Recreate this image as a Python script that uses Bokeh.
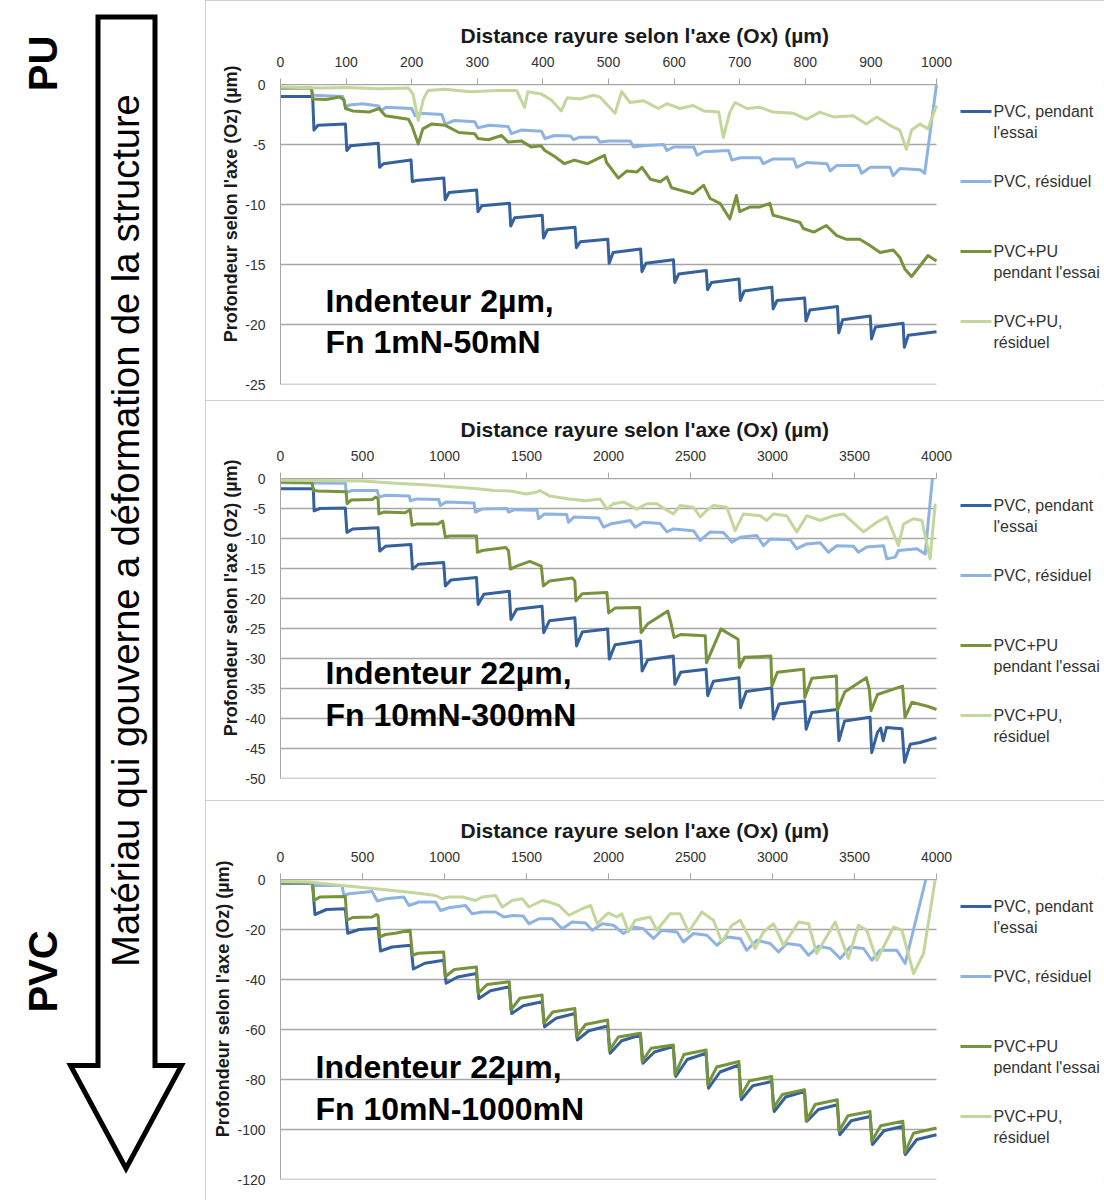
import math
from bokeh.plotting import figure
from bokeh.layouts import row, column
from bokeh.models import Range1d, FixedTicker, Title
from bokeh.embed import file_html
from bokeh.resources import INLINE
from bokeh.core.properties import value

# ---------------- data ----------------
SERIES_LABELS = [["PVC, pendant", "l'essai"], ["PVC, résiduel"],
                 ["PVC+PU", "pendant l'essai"], ["PVC+PU,", "résiduel"]]
COLORS = ["#35619C", "#8DB3E2", "#77933C", "#C3D69B"]
X_TITLE = "Distance rayure selon l'axe (Ox) (µm)"
Y_TITLE = "Profondeur selon l'axe (Oz) (µm)"
ARROW_TEXT = "Matériau qui gouverne a déformation de la structure"

# Panel 1 : indenteur 2 µm, 1-50 mN
p1_xticks = [0, 100, 200, 300, 400, 500, 600, 700, 800, 900, 1000]
p1_yticks = [0, -5, -10, -15, -20, -25]
p1_note = ["Indenteur 2µm,", "Fn 1mN-50mN"]
p1_pvc_pendant = [(0,-1.0),(49,-1.0),
    (51,-3.8),(57,-3.4),(99,-3.3),(101,-5.5),(107,-5.1),(149,-4.9),
    (151,-6.9),(157,-6.6),(199,-6.3),(201,-8.1),(207,-8.0),(249,-7.8),
    (251,-9.6),(257,-9.0),(299,-8.8),(301,-10.6),(307,-10.1),(349,-9.9),
    (351,-11.8),(357,-11.1),(399,-10.9),(401,-12.8),(407,-12.1),(449,-11.9),
    (451,-13.6),(457,-13.1),(499,-12.9),(501,-14.9),(507,-14.0),(549,-13.7),
    (551,-15.6),(557,-14.9),(599,-14.6),(601,-16.5),(607,-15.8),(649,-15.5),
    (651,-17.1),(657,-16.5),(699,-16.2),(701,-18.0),(707,-17.2),(749,-16.9),
    (751,-18.7),(757,-18.0),(799,-17.8),(801,-19.7),(807,-18.8),(849,-18.5),
    (851,-20.7),(857,-19.6),(899,-19.3),(901,-21.2),(907,-20.2),(949,-19.9),
    (951,-21.9),(957,-20.9),(1000,-20.6)]
p1_pvc_resid = [(0,-0.3),(47,-0.3),(50,-0.9),(95,-1.0),
    (99,-1.9),(105,-1.7),(125,-1.6),(150,-1.8),(154,-2.2),(160,-1.9),(200,-2.0),
    (205,-2.6),(212,-2.4),(246,-2.5),(251,-3.3),(265,-3.0),(296,-3.1),
    (301,-3.6),(318,-3.4),(347,-3.5),(352,-4.1),(367,-3.8),(398,-3.9),
    (403,-4.5),(418,-4.25),(442,-4.3),(447,-4.6),(455,-4.4),(482,-4.4),
    (487,-4.8),(500,-4.7),(533,-4.7),(538,-5.2),(553,-5.1),(584,-5.0),
    (589,-5.5),(600,-5.2),(630,-5.2),(635,-5.9),(645,-5.6),(683,-5.5),
    (688,-6.3),(701,-6.1),(731,-6.1),(736,-6.6),(751,-6.2),(782,-6.2),
    (787,-6.9),(802,-6.5),(833,-6.6),(838,-7.2),(848,-6.75),(881,-6.75),
    (886,-7.4),(899,-6.9),(929,-6.9),(934,-7.6),(944,-7.0),(975,-7.1),
    (982,-7.4),(1000,0.0)]
p1_pu_pendant = [(0,-0.3),(47,-0.3),(49,-1.2),(70,-1.25),(90,-1.05),(97,-1.3),
    (99,-2.0),(110,-2.2),(135,-2.3),(150,-2.0),(160,-2.6),(195,-2.9),(200,-3.4),
    (210,-4.95),(217,-3.7),(230,-3.3),(251,-3.4),(272,-4.0),(296,-4.1),
    (301,-4.5),(317,-4.6),(337,-4.25),(347,-4.8),(367,-4.7),(382,-5.2),(397,-5.1),
    (403,-5.5),(418,-6.0),(433,-6.6),(448,-6.3),(468,-6.6),(483,-6.2),(494,-5.9),
    (497,-6.5),(515,-7.8),(528,-7.2),(543,-7.3),(551,-6.9),(564,-7.9),(579,-8.1),
    (589,-7.7),(596,-8.6),(609,-8.8),(629,-9.1),(645,-8.4),(655,-9.5),(670,-9.9),
    (685,-11.2),(695,-9.25),(700,-10.6),(716,-10.2),(731,-10.2),(746,-9.9),
    (751,-10.9),(772,-11.2),(792,-11.5),(797,-12.0),(813,-12.3),(832,-11.75),
    (848,-12.6),(863,-12.9),(883,-12.9),(898,-13.4),(914,-14.0),(934,-13.8),
    (944,-14.4),(952,-15.4),(962,-16.0),(975,-15.1),(987,-14.25),(1000,-14.7)]
p1_pu_resid = [(0,-0.2),(60,-0.3),(100,-0.25),(150,-0.35),(195,-0.3),(202,-0.8),
    (210,-3.0),(218,-1.2),(225,-0.5),(250,-0.4),(290,-0.6),(330,-0.5),(360,-0.5),
    (372,-1.9),(377,-0.6),(398,-0.8),(413,-1.3),(428,-2.2),(437,-1.1),(457,-1.2),
    (477,-0.9),(487,-1.05),(510,-2.4),(520,-0.6),(533,-1.5),(553,-1.35),(576,-2.0),
    (589,-1.6),(609,-2.0),(629,-1.75),(645,-2.2),(668,-2.3),(675,-4.4),(685,-2.3),
    (693,-1.5),(711,-2.0),(731,-1.9),(751,-2.3),(782,-2.4),(802,-2.9),(822,-2.3),
    (843,-2.7),(873,-2.6),(893,-3.3),(909,-2.7),(929,-3.4),(944,-3.8),(954,-5.4),
    (962,-3.8),(975,-3.3),(987,-3.7),(1000,-1.75)]

# Panel 2 : indenteur 22 µm, 10-300 mN
p2_xticks = [0, 500, 1000, 1500, 2000, 2500, 3000, 3500, 4000]
p2_yticks = [0, -5, -10, -15, -20, -25, -30, -35, -40, -45, -50]
p2_note = ["Indenteur 22µm,", "Fn 10mN-300mN"]
p2_pvc_pendant = [(0,-1.7),(200,-1.7),
    (205,-5.4),(240,-5.0),(395,-4.9),(405,-9.0),(440,-8.4),(595,-8.2),
    (605,-12.1),(640,-11.3),(795,-11.0),(805,-15.1),(840,-14.3),(995,-14.0),
    (1005,-17.9),(1040,-16.9),(1195,-16.5),(1205,-21.0),(1240,-19.3),(1395,-18.8),
    (1405,-23.5),(1440,-21.8),(1595,-21.3),(1605,-25.7),(1640,-23.7),(1795,-23.2),
    (1805,-27.9),(1840,-25.6),(1995,-25.1),(2005,-30.1),(2040,-27.7),(2195,-27.1),
    (2205,-32.1),(2240,-30.2),(2395,-29.6),(2405,-34.3),(2440,-32.3),(2595,-31.8),
    (2605,-36.2),(2640,-33.8),(2795,-33.2),(2805,-38.2),(2840,-35.5),(2995,-34.9),
    (3005,-40.1),(3040,-37.6),(3195,-37.1),(3205,-41.8),(3240,-39.0),(3395,-38.5),
    (3405,-43.7),(3440,-40.4),(3595,-39.8),(3605,-45.7),(3640,-42.3),(3660,-41.6),
    (3675,-43.7),(3695,-41.5),(3790,-41.7),(3805,-47.3),(3840,-44.3),(3900,-44.0),
    (4000,-43.2)]
p2_pvc_resid = [(0,-0.7),(396,-0.8),(400,-2.3),(440,-2.0),(590,-2.0),
    (600,-3.1),(640,-2.8),(785,-2.9),(792,-3.7),(830,-3.4),(965,-3.5),
    (975,-4.5),(1010,-3.9),(1180,-4.1),(1188,-5.6),(1230,-5.1),(1380,-5.0),
    (1391,-5.6),(1430,-5.2),(1565,-5.3),(1573,-6.7),(1610,-5.9),(1745,-6.0),
    (1756,-7.3),(1790,-6.4),(1940,-6.6),(1970,-8.1),(2010,-7.6),(2132,-7.0),
    (2163,-8.1),(2213,-7.3),(2315,-7.5),(2356,-8.9),(2396,-8.4),(2518,-8.7),
    (2559,-10.3),(2620,-8.9),(2701,-9.0),(2752,-10.6),(2803,-9.8),(2904,-9.5),
    (2945,-11.2),(2986,-10.1),(3108,-10.2),(3148,-11.7),(3209,-10.9),(3291,-10.7),
    (3341,-12.3),(3392,-11.2),(3494,-11.3),(3524,-12.3),(3575,-11.4),(3677,-11.2),
    (3697,-13.4),(3748,-13.1),(3768,-12.0),(3880,-11.7),(3931,-12.6),(3975,0.0)]
p2_pu_pendant = [(0,-0.6),(193,-0.7),(200,-2.0),(230,-2.1),(400,-2.2),
    (406,-4.2),(430,-3.6),(560,-3.5),(580,-3.1),(595,-3.4),
    (600,-5.9),(630,-5.6),(760,-5.7),(790,-5.2),(802,-7.8),(830,-7.6),(960,-7.6),
    (989,-7.1),(1005,-9.8),(1030,-9.6),(1195,-9.6),(1201,-12.3),(1230,-12.0),
    (1373,-11.5),(1390,-12.0),(1402,-15.1),(1440,-14.6),(1520,-13.8),(1590,-14.6),
    (1603,-17.9),(1640,-17.1),(1780,-16.6),(1795,-17.1),(1801,-20.4),(1840,-19.2),
    (1990,-19.0),(2001,-22.4),(2040,-21.6),(2190,-21.5),(2199,-25.7),(2240,-24.2),
    (2362,-22.1),(2380,-24.0),(2400,-26.5),(2440,-26.0),(2590,-26.2),(2598,-30.7),
    (2686,-25.1),(2790,-26.8),(2798,-31.5),(2830,-29.8),(2990,-29.6),(2996,-34.6),
    (3030,-32.3),(3190,-31.8),(3197,-36.5),(3240,-33.3),(3390,-32.9),(3395,-38.7),
    (3440,-35.6),(3572,-33.2),(3590,-35.1),(3601,-38.7),(3640,-36.0),(3793,-34.6),
    (3808,-39.8),(3850,-37.3),(3950,-38.0),(4000,-38.5)]
p2_pu_resid = [(0,-0.3),(500,-0.4),(700,-0.8),(900,-1.1),(1000,-1.3),(1200,-1.7),
    (1300,-2.0),(1400,-2.1),(1500,-2.6),(1560,-2.3),(1580,-2.0),(1640,-2.9),
    (1760,-3.4),(1860,-3.7),(1949,-3.4),(1990,-5.1),(2030,-4.2),(2091,-3.9),
    (2173,-5.1),(2234,-4.2),(2295,-4.2),(2356,-5.3),(2396,-5.9),(2437,-4.5),
    (2518,-4.8),(2559,-6.4),(2600,-5.3),(2640,-4.5),(2722,-4.8),(2772,-8.7),
    (2823,-5.9),(2925,-6.2),(2965,-7.0),(3006,-5.9),(3087,-6.2),(3148,-8.9),
    (3209,-6.2),(3291,-7.0),(3372,-6.2),(3433,-5.9),(3555,-8.9),(3636,-7.3),
    (3697,-6.4),(3768,-11.2),(3799,-7.6),(3860,-6.7),(3911,-7.0),(3961,-13.4),
    (3992,-4.2)]

# Panel 3 : indenteur 22 µm, 10-1000 mN
p3_xticks = [0, 500, 1000, 1500, 2000, 2500, 3000, 3500, 4000]
p3_yticks = [0, -20, -40, -60, -80, -100, -120]
p3_note = ["Indenteur 22µm,", "Fn 10mN-1000mN"]
p3_pvc_pendant = [(0,-1.5),(195,-1.5),
    (210,-14.0),(280,-12.0),(395,-11.7),(410,-21.5),(480,-20.0),(595,-19.5),
    (610,-28.6),(680,-27.0),(795,-26.3),(810,-35.8),(880,-33.5),(995,-32.3),
    (1010,-41.5),(1080,-39.0),(1195,-37.6),(1210,-47.6),(1280,-44.5),(1395,-42.9),
    (1410,-53.6),(1480,-50.5),(1595,-48.9),(1610,-58.9),(1680,-55.5),(1795,-53.6),
    (1810,-64.2),(1880,-60.5),(1995,-58.6),(2010,-69.5),(2080,-64.5),(2195,-62.2),
    (2210,-73.5),(2280,-69.0),(2395,-66.8),(2410,-78.8),(2480,-72.0),(2595,-69.5),
    (2610,-83.5),(2680,-77.0),(2795,-74.2),(2810,-88.1),(2880,-82.5),(2995,-80.8),
    (3010,-92.8),(3080,-87.0),(3195,-84.8),(3210,-96.7),(3280,-92.0),(3395,-90.1),
    (3410,-102.1),(3480,-96.5),(3595,-94.8),(3610,-106.0),(3680,-100.5),(3795,-98.7),
    (3810,-110.0),(3880,-104.0),(4000,-102.1)]
p3_pvc_resid = [(0,-1.3),(183,-1.3),(200,-2.8),(213,-2.4),(376,-2.4),
    (386,-6.4),(417,-5.7),(559,-4.8),(590,-8.6),(640,-7.7),(752,-7.0),
    (783,-10.4),(844,-9.0),(945,-9.0),(976,-12.4),(1027,-11.3),(1128,-10.4),
    (1169,-13.7),(1230,-13.0),(1311,-13.0),(1362,-15.0),(1420,-14.4),(1480,-14.6),
    (1515,-17.7),(1576,-15.7),(1657,-15.7),(1718,-19.7),(1779,-17.0),(1860,-17.4),
    (1901,-20.3),(1962,-17.7),(2030,-18.3),(2091,-21.6),(2152,-19.0),(2213,-19.7),
    (2274,-23.6),(2325,-20.3),(2417,-21.0),(2457,-25.0),(2518,-21.6),(2600,-22.3),
    (2661,-26.3),(2722,-23.0),(2803,-23.6),(2843,-28.3),(2904,-24.3),(2986,-25.6),
    (3037,-29.0),(3087,-25.6),(3169,-26.3),(3220,-30.3),(3280,-26.7),(3352,-27.6),
    (3413,-31.6),(3474,-27.0),(3555,-27.6),(3606,-32.3),(3656,-28.3),(3758,-28.3),
    (3809,-33.6),(3935,0.0)]
p3_pu_pendant = [(0,-1.3),(195,-1.3),
    (205,-8.4),(240,-7.0),(395,-6.8),(405,-16.3),(440,-15.2),(560,-15.0),
    (585,-14.0),(595,-14.5),(605,-23.0),(640,-22.0),(700,-21.5),(790,-20.3),
    (805,-30.3),(840,-29.5),(995,-29.0),(1005,-38.9),(1060,-36.0),(1195,-35.0),
    (1205,-45.6),(1260,-42.0),(1395,-40.9),(1405,-52.2),(1460,-47.5),(1595,-46.2),
    (1605,-57.5),(1660,-53.0),(1795,-51.6),(1805,-62.9),(1860,-58.0),(1995,-56.2),
    (2005,-68.4),(2060,-63.0),(2195,-61.5),(2205,-72.8),(2260,-67.5),(2395,-66.2),
    (2405,-78.1),(2460,-70.0),(2595,-68.2),(2605,-82.1),(2660,-75.0),(2795,-72.8),
    (2805,-86.8),(2860,-80.5),(2995,-78.8),(3005,-91.4),(3060,-86.0),(3195,-84.1),
    (3205,-96.7),(3260,-90.0),(3395,-88.1),(3405,-100.7),(3460,-94.5),(3595,-92.8),
    (3605,-104.7),(3660,-98.5),(3795,-96.7),(3805,-109.4),(3860,-101.5),(4000,-99.4)]
p3_pu_resid = [(0,-0.8),(173,-1.0),(376,-2.4),(579,-3.7),(773,-5.0),(864,-5.7),
    (945,-6.4),(986,-7.7),(1027,-7.0),(1108,-7.0),(1189,-8.4),(1230,-7.0),
    (1311,-6.4),(1352,-11.0),(1413,-8.4),(1474,-7.7),(1515,-11.0),(1596,-8.4),
    (1637,-9.0),(1698,-10.4),(1759,-14.3),(1840,-11.7),(1891,-10.4),(1931,-17.7),
    (1982,-14.3),(2000,-13.4),(2051,-15.0),(2081,-13.7),(2122,-21.0),(2163,-16.3),
    (2254,-15.0),(2295,-20.3),(2376,-13.7),(2437,-13.7),(2488,-21.0),(2569,-13.0),
    (2640,-16.3),(2691,-25.0),(2752,-18.3),(2803,-16.3),(2894,-27.6),(2945,-21.0),
    (3006,-17.7),(3067,-26.3),(3159,-17.0),(3220,-17.7),(3270,-29.6),(3382,-17.0),
    (3463,-31.6),(3524,-18.3),(3575,-20.3),(3636,-32.3),(3738,-19.0),(3789,-20.3),
    (3860,-37.6),(3921,-29.6),(3992,0.0)]

# ---------------- layout constants (pixels) ----------------
PANEL_W = 899
BORDER_L = 75
PLOT_W = 656          # width of the data area (0..xmax)
FRAME_W = PANEL_W - BORDER_L
FRAME_H = 300
FONT = "Liberation Sans"
GRID_COLOR = "#a6a6a6"


def make_panel(xmax, xticks, ymin, yticks, series, note, note_px, note_rel,
               height, top, bottom):
    x_end = xmax * FRAME_W / PLOT_W
    p = figure(width=PANEL_W, height=height, x_range=Range1d(0, x_end),
               y_range=Range1d(ymin, 0), x_axis_location="above",
               output_backend="svg", toolbar_location=None,
               min_border_left=BORDER_L, min_border_right=0,
               min_border_top=top, min_border_bottom=bottom)
    p.outline_line_color = None
    p.xgrid.visible = False
    p.ygrid.visible = False
    p.styles = {"outline": "1px solid #bfbfbf", "outline-offset": "-1px"}

    p.title.text = X_TITLE
    p.title.align = "left"
    p.title.offset = 180
    p.title.vertical_align = "top"
    p.title.text_font = FONT
    p.title.text_font_style = "bold"
    p.title.text_font_size = "21px"
    p.title.text_color = "#1a1a1a"
    p.title.standoff = 10

    xa = p.xaxis[0]
    xa.ticker = FixedTicker(ticks=xticks)
    xa.bounds = (0, xmax)
    xa.major_label_text_font = FONT
    xa.major_label_text_font_size = "14px"
    xa.major_label_text_color = "#333333"
    xa.major_label_standoff = 12
    xa.axis_line_color = GRID_COLOR
    xa.major_tick_line_color = GRID_COLOR
    xa.major_tick_out = 6
    xa.major_tick_in = 0
    xa.minor_tick_line_color = None

    ya = p.yaxis[0]
    ya.ticker = FixedTicker(ticks=yticks)
    ya.major_label_overrides = {t: str(t) for t in yticks}
    ya.major_label_text_font = FONT
    ya.major_label_text_font_size = "14px"
    ya.major_label_text_color = "#333333"
    ya.major_label_standoff = 9
    ya.axis_line_color = GRID_COLOR
    ya.major_tick_line_color = None
    ya.minor_tick_line_color = None

    # y-axis title, anchored near the top of the plot area (as in the original)
    p.add_layout(Title(text=Y_TITLE, align="right", offset=-19, standoff=4,
                       text_font=FONT, text_font_style="bold",
                       text_font_size="18px", text_color="#1a1a1a"), "left")

    # horizontal gridlines limited to the data area
    p.segment(x0=[0] * len(yticks), x1=[xmax] * len(yticks), y0=yticks, y1=yticks,
              line_color=GRID_COLOR, line_width=1.5)

    for pts, col in zip(series, COLORS):
        p.line([a for a, b in pts], [b for a, b in pts], line_color=col,
               line_width=3, line_join="round")

    # legend (drawn to the right of the data area)
    for i, (lab, col) in enumerate(zip(SERIES_LABELS, COLORS)):
        yy = ymin * (27 + 70 * i) / FRAME_H
        p.line([xmax * 680 / PLOT_W, xmax * 711 / PLOT_W], [yy, yy],
               line_color=col, line_width=3)
        for j, t in enumerate(lab):
            p.text(x=[xmax * 713 / PLOT_W], y=[ymin * (27 + 70 * i + 21 * j) / FRAME_H],
                   text=[t], text_font=value(FONT), text_font_size="16px",
                   text_color="#333333", text_baseline="middle", text_align="left")

    # annotation
    for j, t in enumerate(note):
        p.text(x=[xmax * note_px / PLOT_W], y=[ymin * note_rel[j] / FRAME_H], text=[t],
               text_font=value(FONT), text_font_size="32px", text_font_style="bold",
               text_color="black", text_baseline="middle", text_align="left")
    return p


p1 = make_panel(1000, p1_xticks, -25, p1_yticks,
                [p1_pvc_pendant, p1_pvc_resid, p1_pu_pendant, p1_pu_resid],
                p1_note, 45, [216, 257], 400, 84, 16)
p2 = make_panel(4000, p2_xticks, -50, p2_yticks,
                [p2_pvc_pendant, p2_pvc_resid, p2_pu_pendant, p2_pu_resid],
                p2_note, 45, [194, 236], 400, 78, 22)
p3 = make_panel(4000, p3_xticks, -120, p3_yticks,
                [p3_pvc_pendant, p3_pvc_resid, p3_pu_pendant, p3_pu_resid],
                p3_note, 35, [187, 229], 400, 79, 21)

# ---------------- arrow column ----------------
fa = figure(width=205, height=1200, x_range=Range1d(0, 205), y_range=Range1d(1200, 0),
            x_axis_type=None, y_axis_type=None, output_backend="svg",
            toolbar_location=None, min_border=0)
fa.outline_line_color = None
fa.grid.visible = False
fa.patch([97.5, 154.5, 154.5, 181, 125.5, 70, 97.5],
         [16.5, 16.5, 1065, 1065, 1168, 1065, 1065],
         fill_color="white", line_color="black", line_width=5, line_join="miter")
fa.text(x=[125], y=[530], text=[ARROW_TEXT], angle=math.pi / 2,
        text_font=value(FONT), text_font_size="38px", text_color="black",
        text_align="center", text_baseline="middle")
fa.text(x=[42, 42], y=[63, 971], text=["PU", "PVC"], angle=math.pi / 2,
        text_font=value(FONT), text_font_size="40px", text_font_style="bold",
        text_color="black", text_align="center", text_baseline="middle")

layout = row(fa, column(p1, p2, p3))
open("out.html", "w").write(file_html(layout, INLINE))
